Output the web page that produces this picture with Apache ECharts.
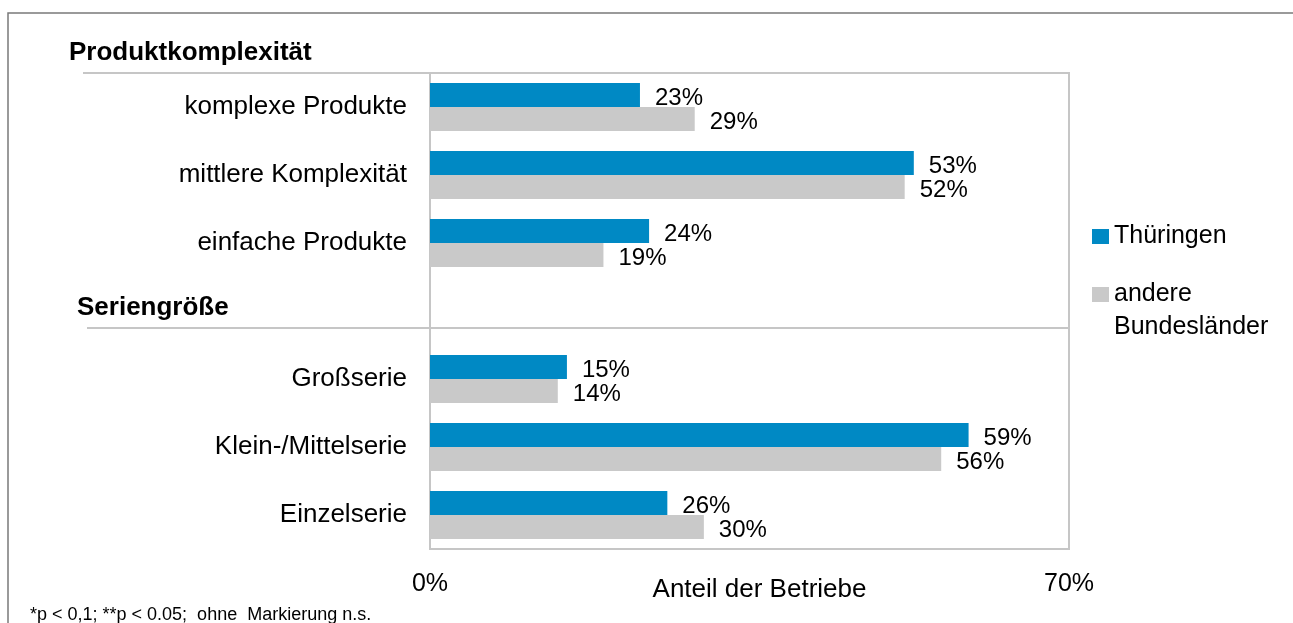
<!DOCTYPE html>
<html>
<head>
<meta charset="utf-8">
<script src="https://cdn.jsdelivr.net/npm/echarts@6/dist/echarts.min.js"></script>
<style>
  html, body { margin: 0; padding: 0; background: #fff; }
  #chart { width: 1293px; height: 623px; }
</style>
</head>
<body>
<div id="chart"></div>
<script>
// Kategorien (leere Zeile = Platz für die Überschrift "Seriengröße")
const categories = ['komplexe Produkte', 'mittlere Komplexität', 'einfache Produkte', '', 'Großserie', 'Klein-/Mittelserie', 'Einzelserie'];
const thueringen = [23, 53, 24, null, 15, 59, 26];
const andere = [29, 52, 19, null, 14, 56, 30];
const xTicks = [0, 70];

const FONT = '"Liberation Sans", Arial, sans-serif';
const BLUE = '#0089c4';
const GREY = '#c9c9c9';

const chart = echarts.init(document.getElementById('chart'));

const labelStyle = {
  show: true,
  position: 'right',
  distance: 15,
  offset: [0, 3],
  color: '#000',
  fontFamily: FONT,
  fontSize: 24,
  formatter: p => p.value + '%'
};

const headStyle = { fontFamily: FONT, fontSize: 26, fontWeight: 'bold', color: '#000' };

const option = {
  animation: false,
  backgroundColor: '#fff',
  textStyle: { fontFamily: FONT },
  title: [
    { text: 'Produktkomplexität', left: 69, top: 40, padding: 0, textStyle: headStyle },
    { text: 'Seriengröße', left: 77, top: 295, padding: 0, textStyle: headStyle }
  ],
  legend: {
    orient: 'vertical',
    left: 1087,
    top: 215,
    itemWidth: 17,
    itemHeight: 15,
    itemGap: -8,
    icon: 'rect',
    textStyle: { fontFamily: FONT, fontSize: 25, color: '#000', lineHeight: 33 },
    formatter: name => name === 'andere Bundesländer' ? ' \nandere\nBundesländer' : name,
    data: ['Thüringen', 'andere Bundesländer']
  },
  grid: {
    left: 430, right: 224, top: 73, bottom: 74,
    show: true, borderColor: '#c6c6c6', borderWidth: 2,
    containLabel: false,
    outerBoundsMode: 'none'
  },
  xAxis: {
    type: 'value',
    min: xTicks[0], max: xTicks[1], interval: 70,
    axisLine: { show: false },
    axisTick: { show: false },
    splitLine: { show: false },
    axisLabel: { margin: 23, color: '#000', fontFamily: FONT, fontSize: 25, formatter: v => v + '%' },
    name: 'Anteil der Betriebe',
    nameLocation: 'middle',
    nameGap: 28,
    nameMoveOverlap: false,
    nameTextStyle: { color: '#000', fontFamily: FONT, fontSize: 26, padding: [0, 0, 0, 20] }
  },
  yAxis: {
    type: 'category',
    inverse: true,
    data: categories,
    axisLine: { show: false },
    axisTick: { show: false },
    axisLabel: { margin: 23, color: '#000', fontFamily: FONT, fontSize: 26, padding: [4, 0, 0, 0] }
  },
  series: [
    { name: 'Thüringen', type: 'bar', data: thueringen, barWidth: 24, barGap: '0%', itemStyle: { color: BLUE }, label: labelStyle },
    { name: 'andere Bundesländer', type: 'bar', data: andere, barWidth: 24, barGap: '0%', itemStyle: { color: GREY }, label: labelStyle }
  ],
  graphic: [
    { type: 'rect', shape: { x: 8, y: 13, width: 1310, height: 700 }, style: { fill: 'none', stroke: '#7a7a7a', lineWidth: 1.5 }, silent: true },
    { type: 'line', shape: { x1: 83, y1: 73, x2: 430, y2: 73 }, style: { stroke: '#c6c6c6', lineWidth: 2 }, silent: true },
    { type: 'line', shape: { x1: 87, y1: 328, x2: 1069, y2: 328 }, style: { stroke: '#c6c6c6', lineWidth: 2 }, silent: true },
    { type: 'text', left: 30, top: 606, style: { text: '*p < 0,1; **p < 0.05;  ohne  Markierung n.s.', fontFamily: FONT, fontSize: 18, fill: '#000' }, silent: true }
  ]
};

chart.setOption(option);
window.addEventListener('resize', () => chart.resize());
</script>
</body>
</html>
